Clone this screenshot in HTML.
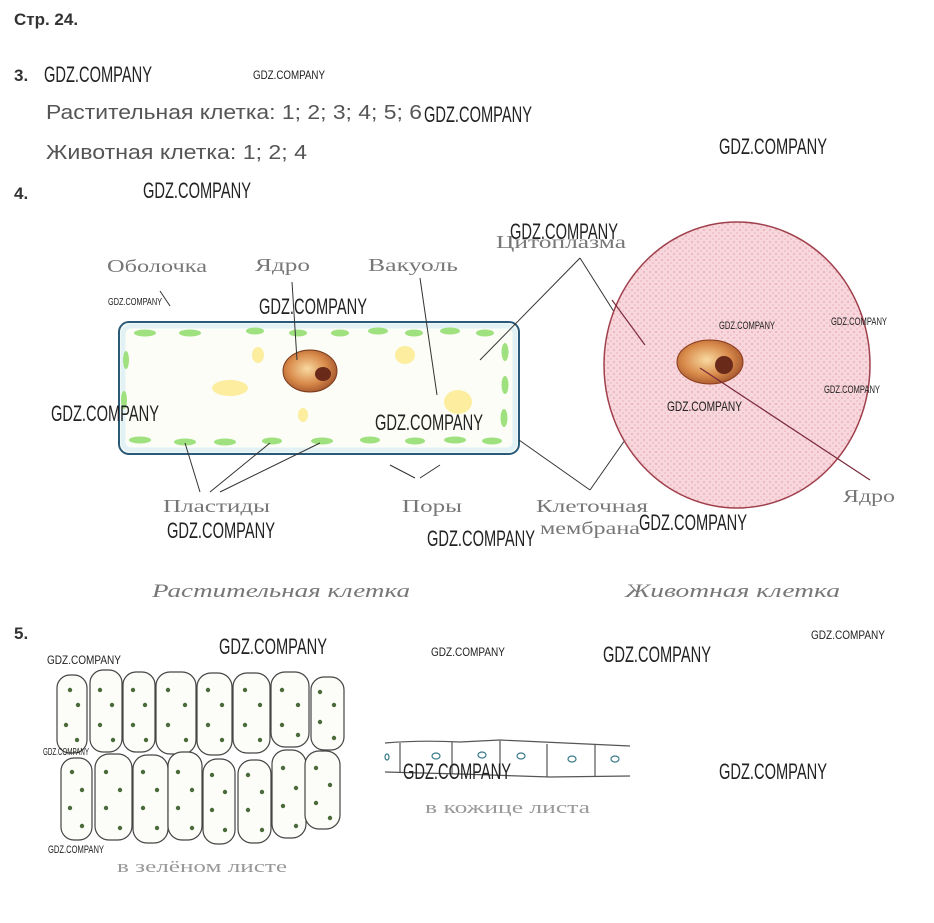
<!DOCTYPE html>
<html><head><meta charset="utf-8"><style>
html,body{margin:0;padding:0;background:#fff}
svg{display:block}
.wm{font-family:"Liberation Sans",sans-serif;fill:#222}
.t{font-family:"Liberation Sans",sans-serif;fill:#555}
.s{font-family:"Liberation Serif",serif;fill:#777}
</style></head><body>
<svg width="934" height="923" viewBox="0 0 934 923" xmlns="http://www.w3.org/2000/svg">
<defs>
<radialGradient id="nuc" cx="0.45" cy="0.45" r="0.6"><stop offset="0" stop-color="#f8d9a0"/><stop offset="0.6" stop-color="#d88a4a"/><stop offset="1" stop-color="#a0522d"/></radialGradient>
<pattern id="dots" width="6" height="6" patternUnits="userSpaceOnUse"><rect width="6" height="6" fill="#f7d6dc"/><circle cx="2" cy="2" r="0.9" fill="#e6a2ae"/><circle cx="5" cy="5" r="0.8" fill="#eab0ba"/></pattern>
</defs>
<text x="14" y="25" font-family="Liberation Sans,sans-serif" font-weight="bold" font-size="17" fill="#333">Стр. 24.</text>
<text x="14" y="81" font-family="Liberation Sans,sans-serif" font-weight="bold" font-size="17" fill="#333">3.</text>
<text x="14" y="199" font-family="Liberation Sans,sans-serif" font-weight="bold" font-size="17" fill="#333">4.</text>
<text x="14" y="639" font-family="Liberation Sans,sans-serif" font-weight="bold" font-size="17" fill="#333">5.</text>
<text class="t" x="46" y="119" font-size="20" textLength="376" lengthAdjust="spacingAndGlyphs">Растительная клетка: 1; 2; 3; 4; 5; 6</text>
<text class="t" x="46" y="159" font-size="20" textLength="261" lengthAdjust="spacingAndGlyphs">Животная клетка: 1; 2; 4</text>

<!-- plant cell -->
<rect x="119" y="322" width="400" height="132" rx="10" fill="#fcfdf6" stroke="#2a5a7a" stroke-width="2"/>
<rect x="123" y="326" width="392" height="124" rx="8" fill="none" stroke="#e2f2f4" stroke-width="5"/>
<g fill="#9fe07f">
<ellipse cx="145" cy="333" rx="11" ry="3.5"/><ellipse cx="190" cy="333" rx="11" ry="3.5"/><ellipse cx="255" cy="331" rx="9" ry="3.5"/><ellipse cx="298" cy="333" rx="9" ry="3.5"/><ellipse cx="340" cy="333" rx="9" ry="3.5"/><ellipse cx="378" cy="331" rx="10" ry="3.5"/><ellipse cx="414" cy="333" rx="9" ry="3.5"/><ellipse cx="450" cy="331" rx="10" ry="3.5"/><ellipse cx="485" cy="333" rx="9" ry="3.5"/>
<ellipse cx="140" cy="440" rx="11" ry="3.5"/><ellipse cx="185" cy="442" rx="11" ry="3.5"/><ellipse cx="225" cy="442" rx="11" ry="3.5"/><ellipse cx="272" cy="441" rx="10" ry="3.5"/><ellipse cx="322" cy="441" rx="11" ry="3.5"/><ellipse cx="370" cy="440" rx="10" ry="3.5"/><ellipse cx="415" cy="441" rx="10" ry="3.5"/><ellipse cx="455" cy="440" rx="11" ry="3.5"/><ellipse cx="492" cy="441" rx="10" ry="3.5"/>
<ellipse cx="505" cy="352" rx="3.5" ry="9"/><ellipse cx="505" cy="385" rx="3.5" ry="9"/><ellipse cx="504" cy="418" rx="3.5" ry="9"/><ellipse cx="126" cy="360" rx="3" ry="9"/><ellipse cx="124" cy="400" rx="3" ry="9"/>
</g>
<g fill="#fbe98a" opacity="0.8"><ellipse cx="230" cy="388" rx="18" ry="8"/><ellipse cx="405" cy="355" rx="10" ry="9"/><ellipse cx="458" cy="402" rx="14" ry="12"/><ellipse cx="258" cy="355" rx="6" ry="8"/><ellipse cx="303" cy="415" rx="5" ry="7"/></g>
<ellipse cx="310" cy="371" rx="27" ry="21" fill="url(#nuc)" stroke="#7a3a1a" stroke-width="1"/>
<ellipse cx="323" cy="374" rx="8" ry="7" fill="#6a2a1a"/>
<g stroke="#333" stroke-width="1" fill="none">
<line x1="160" y1="291" x2="170" y2="306"/>
<line x1="292" y1="282" x2="297" y2="360"/>
<line x1="420" y1="278" x2="437" y2="395"/>
<line x1="580" y1="258" x2="480" y2="360"/>
<line x1="580" y1="258" x2="635" y2="345"/>
<line x1="185" y1="443" x2="200" y2="492"/><line x1="270" y1="443" x2="210" y2="492"/><line x1="320" y1="443" x2="220" y2="492"/>
<line x1="390" y1="465" x2="415" y2="478"/><line x1="440" y1="465" x2="420" y2="478"/>
<line x1="519" y1="440" x2="590" y2="490"/><line x1="625" y1="440" x2="590" y2="490"/>
</g>
<!-- animal cell -->
<ellipse cx="737" cy="365" rx="133" ry="143" fill="url(#dots)" stroke="#a0404c" stroke-width="1.5"/>
<ellipse cx="710" cy="362" rx="33" ry="22" fill="url(#nuc)" stroke="#8a3a1a"/>
<ellipse cx="724" cy="365" rx="9" ry="9" fill="#6a2a1a"/>
<line x1="700" y1="368" x2="870" y2="480" stroke="#7a2a3a" stroke-width="1.2"/>
<line x1="612" y1="300" x2="645" y2="345" stroke="#7a2a3a" stroke-width="1.2"/>
<g class="s" font-size="18" lengthAdjust="spacingAndGlyphs">
<text x="107" y="272" textLength="100" lengthAdjust="spacingAndGlyphs">Оболочка</text>
<text x="255" y="271" textLength="55" lengthAdjust="spacingAndGlyphs">Ядро</text>
<text x="368" y="271" textLength="90" lengthAdjust="spacingAndGlyphs">Вакуоль</text>
<text x="496" y="248" textLength="130" lengthAdjust="spacingAndGlyphs">Цитоплазма</text>
<text x="163" y="512" textLength="107" lengthAdjust="spacingAndGlyphs">Пластиды</text>
<text x="402" y="512" textLength="60" lengthAdjust="spacingAndGlyphs">Поры</text>
<text x="536" y="512" textLength="112" lengthAdjust="spacingAndGlyphs">Клеточная</text>
<text x="540" y="534" textLength="100" lengthAdjust="spacingAndGlyphs">мембрана</text>
<text x="843" y="502" textLength="52" lengthAdjust="spacingAndGlyphs">Ядро</text>
<text x="152" y="597" font-style="italic" font-size="19" textLength="258" lengthAdjust="spacingAndGlyphs">Растительная клетка</text>
<text x="625" y="597" font-style="italic" font-size="19" textLength="215" lengthAdjust="spacingAndGlyphs">Животная клетка</text>
<text x="117" y="872" font-size="17" fill="#999" textLength="170" lengthAdjust="spacingAndGlyphs">в зелёном листе</text>
<text x="425" y="813" font-size="17" fill="#999" textLength="165" lengthAdjust="spacingAndGlyphs">в кожице листа</text>
</g>
<!-- leaf cells -->
<g fill="#fcfdf8" stroke="#444" stroke-width="1.2">
<rect x="57" y="675" width="30" height="78" rx="13"/><rect x="90" y="670" width="32" height="82" rx="13"/><rect x="123" y="672" width="32" height="80" rx="13"/><rect x="156" y="672" width="40" height="82" rx="14"/><rect x="197" y="673" width="35" height="82" rx="14"/><rect x="233" y="673" width="37" height="80" rx="14"/><rect x="271" y="672" width="38" height="75" rx="14"/><rect x="311" y="677" width="33" height="73" rx="13"/>
<rect x="61" y="758" width="31" height="82" rx="13"/><rect x="95" y="754" width="37" height="86" rx="14"/><rect x="133" y="755" width="35" height="88" rx="14"/><rect x="168" y="752" width="34" height="88" rx="14"/><rect x="203" y="759" width="32" height="85" rx="14"/><rect x="238" y="760" width="33" height="83" rx="14"/><rect x="272" y="750" width="34" height="88" rx="14"/><rect x="305" y="751" width="35" height="78" rx="14"/>
</g>
<g fill="#4a6a3a">
<circle cx="70" cy="690" r="2.2"/><circle cx="78" cy="705" r="2.2"/><circle cx="66" cy="725" r="2.2"/><circle cx="77" cy="740" r="2.2"/>
<circle cx="100" cy="690" r="2.2"/><circle cx="112" cy="705" r="2.2"/><circle cx="100" cy="725" r="2.2"/><circle cx="113" cy="740" r="2.2"/>
<circle cx="133" cy="690" r="2.2"/><circle cx="145" cy="705" r="2.2"/><circle cx="133" cy="725" r="2.2"/><circle cx="146" cy="740" r="2.2"/>
<circle cx="168" cy="690" r="2.2"/><circle cx="185" cy="705" r="2.2"/><circle cx="168" cy="725" r="2.2"/><circle cx="186" cy="740" r="2.2"/>
<circle cx="208" cy="690" r="2.2"/><circle cx="222" cy="705" r="2.2"/><circle cx="208" cy="725" r="2.2"/><circle cx="222" cy="740" r="2.2"/>
<circle cx="245" cy="690" r="2.2"/><circle cx="260" cy="705" r="2.2"/><circle cx="245" cy="725" r="2.2"/><circle cx="260" cy="740" r="2.2"/>
<circle cx="282" cy="690" r="2.2"/><circle cx="298" cy="705" r="2.2"/><circle cx="282" cy="725" r="2.2"/><circle cx="298" cy="735" r="2.2"/>
<circle cx="320" cy="692" r="2.2"/><circle cx="334" cy="705" r="2.2"/><circle cx="320" cy="722" r="2.2"/><circle cx="334" cy="738" r="2.2"/>
<circle cx="72" cy="772" r="2.2"/><circle cx="82" cy="790" r="2.2"/><circle cx="70" cy="808" r="2.2"/><circle cx="82" cy="826" r="2.2"/>
<circle cx="106" cy="772" r="2.2"/><circle cx="120" cy="790" r="2.2"/><circle cx="106" cy="808" r="2.2"/><circle cx="120" cy="828" r="2.2"/>
<circle cx="143" cy="772" r="2.2"/><circle cx="157" cy="790" r="2.2"/><circle cx="143" cy="808" r="2.2"/><circle cx="157" cy="828" r="2.2"/>
<circle cx="178" cy="772" r="2.2"/><circle cx="192" cy="790" r="2.2"/><circle cx="178" cy="808" r="2.2"/><circle cx="192" cy="828" r="2.2"/>
<circle cx="212" cy="775" r="2.2"/><circle cx="225" cy="792" r="2.2"/><circle cx="212" cy="810" r="2.2"/><circle cx="225" cy="830" r="2.2"/>
<circle cx="248" cy="775" r="2.2"/><circle cx="262" cy="792" r="2.2"/><circle cx="248" cy="810" r="2.2"/><circle cx="262" cy="830" r="2.2"/>
<circle cx="283" cy="768" r="2.2"/><circle cx="296" cy="788" r="2.2"/><circle cx="283" cy="806" r="2.2"/><circle cx="296" cy="826" r="2.2"/>
<circle cx="316" cy="768" r="2.2"/><circle cx="330" cy="785" r="2.2"/><circle cx="316" cy="803" r="2.2"/><circle cx="330" cy="818" r="2.2"/>
</g>
<!-- epidermis -->
<g fill="none" stroke="#555" stroke-width="1.2">
<path d="M385 743 Q420 740 460 742 L500 740 L630 746"/><path d="M385 772 L460 774 L550 777 L630 776"/>
<line x1="400" y1="743" x2="400" y2="772"/><line x1="452" y1="742" x2="452" y2="774"/><line x1="500" y1="741" x2="500" y2="775"/><line x1="547" y1="744" x2="547" y2="777"/><line x1="595" y1="745" x2="595" y2="777"/>
</g>
<g fill="none" stroke="#3a7a8a" stroke-width="1.2"><ellipse cx="436" cy="756" rx="4" ry="3"/><ellipse cx="482" cy="755" rx="4" ry="3"/><ellipse cx="521" cy="756" rx="4" ry="3"/><ellipse cx="572" cy="759" rx="4" ry="3"/><ellipse cx="615" cy="759" rx="4" ry="3"/><ellipse cx="387" cy="757" rx="2" ry="3"/></g>
<!-- watermarks -->
<g class="wm" font-size="22">
<text x="44" y="82" textLength="108" lengthAdjust="spacingAndGlyphs">GDZ.COMPANY</text>
<text x="424" y="122" textLength="108" lengthAdjust="spacingAndGlyphs">GDZ.COMPANY</text>
<text x="719" y="154" textLength="108" lengthAdjust="spacingAndGlyphs">GDZ.COMPANY</text>
<text x="143" y="198" textLength="108" lengthAdjust="spacingAndGlyphs">GDZ.COMPANY</text>
<text x="510" y="239" textLength="108" lengthAdjust="spacingAndGlyphs">GDZ.COMPANY</text>
<text x="259" y="314" textLength="108" lengthAdjust="spacingAndGlyphs">GDZ.COMPANY</text>
<text x="51" y="421" textLength="108" lengthAdjust="spacingAndGlyphs">GDZ.COMPANY</text>
<text x="375" y="430" textLength="108" lengthAdjust="spacingAndGlyphs">GDZ.COMPANY</text>
<text x="167" y="538" textLength="108" lengthAdjust="spacingAndGlyphs">GDZ.COMPANY</text>
<text x="427" y="546" textLength="108" lengthAdjust="spacingAndGlyphs">GDZ.COMPANY</text>
<text x="639" y="530" textLength="108" lengthAdjust="spacingAndGlyphs">GDZ.COMPANY</text>
<text x="219" y="654" textLength="108" lengthAdjust="spacingAndGlyphs">GDZ.COMPANY</text>
<text x="603" y="662" textLength="108" lengthAdjust="spacingAndGlyphs">GDZ.COMPANY</text>
<text x="403" y="779" textLength="108" lengthAdjust="spacingAndGlyphs">GDZ.COMPANY</text>
<text x="719" y="779" textLength="108" lengthAdjust="spacingAndGlyphs">GDZ.COMPANY</text>
</g>
<g class="wm" font-size="12">
<text x="253" y="79" textLength="72" lengthAdjust="spacingAndGlyphs">GDZ.COMPANY</text>
<text x="108" y="305" textLength="54" lengthAdjust="spacingAndGlyphs" font-size="10">GDZ.COMPANY</text>
<text x="719" y="329" textLength="56" lengthAdjust="spacingAndGlyphs" font-size="11">GDZ.COMPANY</text>
<text x="831" y="325" textLength="56" lengthAdjust="spacingAndGlyphs" font-size="11">GDZ.COMPANY</text>
<text x="824" y="393" textLength="56" lengthAdjust="spacingAndGlyphs" font-size="11">GDZ.COMPANY</text>
<text x="667" y="411" textLength="75" lengthAdjust="spacingAndGlyphs" font-size="14">GDZ.COMPANY</text>
<text x="811" y="639" textLength="74" lengthAdjust="spacingAndGlyphs">GDZ.COMPANY</text>
<text x="47" y="664" textLength="74" lengthAdjust="spacingAndGlyphs">GDZ.COMPANY</text>
<text x="431" y="656" textLength="74" lengthAdjust="spacingAndGlyphs">GDZ.COMPANY</text>
<text x="43" y="755" textLength="46" lengthAdjust="spacingAndGlyphs" font-size="10">GDZ.COMPANY</text>
<text x="48" y="853" textLength="56" lengthAdjust="spacingAndGlyphs" font-size="11">GDZ.COMPANY</text>
</g>
</svg>
</body></html>
